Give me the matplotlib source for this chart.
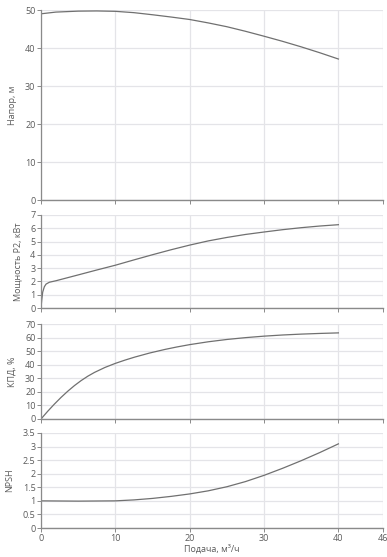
import matplotlib
matplotlib.use("Agg")
import matplotlib.pyplot as plt

plt.rcParams['font.family'] = ['Open Sans', 'DejaVu Sans']

# head curve
q_head = [0, 2, 5, 7.5, 10, 12.5, 15, 17.5, 20, 22.5, 25, 27.5, 30, 32.5, 35, 37.5, 40]
head = [49.0, 49.45, 49.7, 49.75, 49.65, 49.3, 48.75, 48.15, 47.5, 46.6, 45.6, 44.4, 43.1, 41.75, 40.3, 38.75, 37.1]

# power P2
q_power = [0, 0.1, 0.23, 0.45, 0.68, 1.13, 2, 3.5, 5, 7.5, 10, 12.5, 15, 17.5, 20, 22.5, 25, 27.5, 30, 32.5, 35, 37.5, 40]
power = [0, 0.6, 1.2, 1.6, 1.8, 1.94, 2.05, 2.27, 2.49, 2.86, 3.22, 3.62, 4.01, 4.385, 4.735, 5.05, 5.31, 5.535, 5.72, 5.895, 6.045, 6.17, 6.27]

# efficiency
q_eff = [0, 0.9, 1.8, 2.7, 3.6, 4.5, 5.4, 6.3, 7.2, 8.6, 10, 11.3, 12.6, 14.6, 16.7, 18.3, 20, 22.5, 25, 27.5, 30, 32.5, 35, 37.5, 40]
eff = [0, 5.67, 10.98, 15.93, 20.48, 24.62, 28.31, 31.55, 34.34, 37.98, 40.99, 43.4, 45.6, 48.6, 51.3, 53.1, 54.8, 56.9, 58.6, 59.95, 61.05, 61.9, 62.55, 63.05, 63.45]

# npsh
q_npsh = [0, 2.5, 5, 7.5, 10, 12.5, 15, 17.5, 20, 22.5, 25, 27.5, 30, 32.5, 35, 37.5, 40]
npsh = [1.0, 0.995, 0.99, 0.995, 1.0, 1.035, 1.09, 1.165, 1.255, 1.37, 1.52, 1.71, 1.94, 2.2, 2.48, 2.78, 3.1]

x_ticks = [0, 10, 20, 30, 40, 46]

panels = [
    (q_head, head, "Напор, м", [0, 10, 20, 30, 40, 50], ["0", "10", "20", "30", "40", "50"]),
    (q_power, power, "Мощность P2, кВт", list(range(8)), [str(v) for v in range(8)]),
    (q_eff, eff, "КПД, %", list(range(0, 71, 10)), [str(v) for v in range(0, 71, 10)]),
    (q_npsh, npsh, "NPSH", [0, 0.5, 1, 1.5, 2, 2.5, 3, 3.5], ["0", "0.5", "1", "1.5", "2", "2.5", "3", "3.5"]),
]

# axes boxes in pixels: top, bottom
boxes = [(10, 200), (215, 308), (324, 419), (433, 528)]
W, H = 387, 557
left, right = 41, 383

fig = plt.figure(figsize=(W / 100, H / 100), dpi=100)
txt = "#5a5a5a"
for i, ((qx, qy, label, yt, ytl), (top, bot)) in enumerate(zip(panels, boxes)):
    ax = fig.add_axes([left / W, 1 - bot / H, (right - left) / W, (bot - top) / H])
    ax.plot(qx, qy, color="#707070", lw=0.9)
    ax.set_xlim(0, 46)
    ax.set_ylim(yt[0], yt[-1])
    ax.set_xticks(x_ticks)
    ax.set_yticks(yt)
    ax.set_yticklabels(ytl)
    ax.grid(True, color="#e4e4e8", lw=0.9)
    ax.set_axisbelow(True)
    for s in ["top", "right"]:
        ax.spines[s].set_visible(False)
    ax.spines["left"].set_color("#8a8a8a")
    ax.spines["bottom"].set_color("#8a8a8a")
    ax.spines["left"].set_linewidth(0.9)
    ax.spines["bottom"].set_linewidth(1.0)
    ax.tick_params(axis="both", colors="#8a8a8a", labelcolor=txt, labelsize=6.5, length=3, width=0.7, pad=1)
    ax.set_ylabel(label, fontsize=6.5, color=txt, labelpad=6)
    if i < 3:
        ax.set_xticklabels([])
    else:
        ax.set_xlabel("Подача, м³/ч", fontsize=6.5, color=txt, labelpad=1)

fig.savefig("out.png", dpi=100)
